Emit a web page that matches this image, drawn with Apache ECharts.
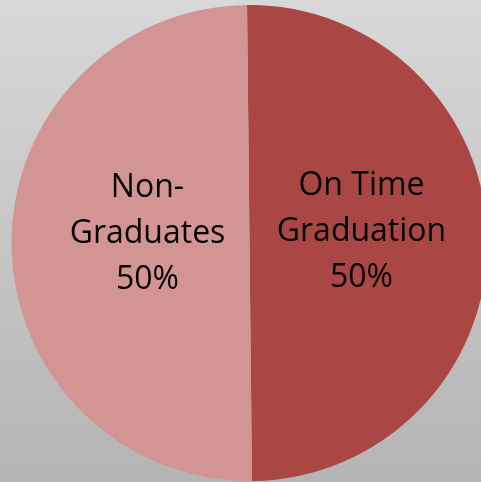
<!DOCTYPE html>
<html>
<head>
<meta charset="utf-8">
<script src="https://cdn.jsdelivr.net/npm/echarts@6/dist/echarts.min.js"></script>
<style>
  html, body { margin: 0; padding: 0; }
  #chart {
    width: 481px;
    height: 482px;
    background: linear-gradient(180deg, #d8d8d8 0%, #b4b4b4 100%);
  }
</style>
</head>
<body>
<div id="chart"></div>
<script>
// data
const categories = ['On Time Graduation', 'Non-Graduates'];
const labelTexts = ['On Time\nGraduation', 'Non-\nGraduates'];
const values = [50, 50];
const colors = ['#aa4744', '#d39593'];
const labelOffsets = [[-10, -10], [20, -10]];

const chart = echarts.init(document.getElementById('chart'));

chart.setOption({
  animation: false,
  series: [{
    type: 'pie',
    center: [249.5, 243],
    radius: 238,
    startAngle: 90.6,
    clockwise: true,
    data: categories.map((name, i) => ({
      name: name,
      value: values[i],
      itemStyle: { color: colors[i] },
      label: {
        offset: labelOffsets[i],
        formatter: labelTexts[i] + '\n{d}%'
      }
    })),
    label: {
      show: true,
      position: 'inside',
      color: '#000',
      fontFamily: 'Open Sans',
      fontSize: 32,
      lineHeight: 46,
      align: 'center'
    },
    labelLine: { show: false },
    emphasis: { disabled: true }
  }]
});
</script>
</body>
</html>
